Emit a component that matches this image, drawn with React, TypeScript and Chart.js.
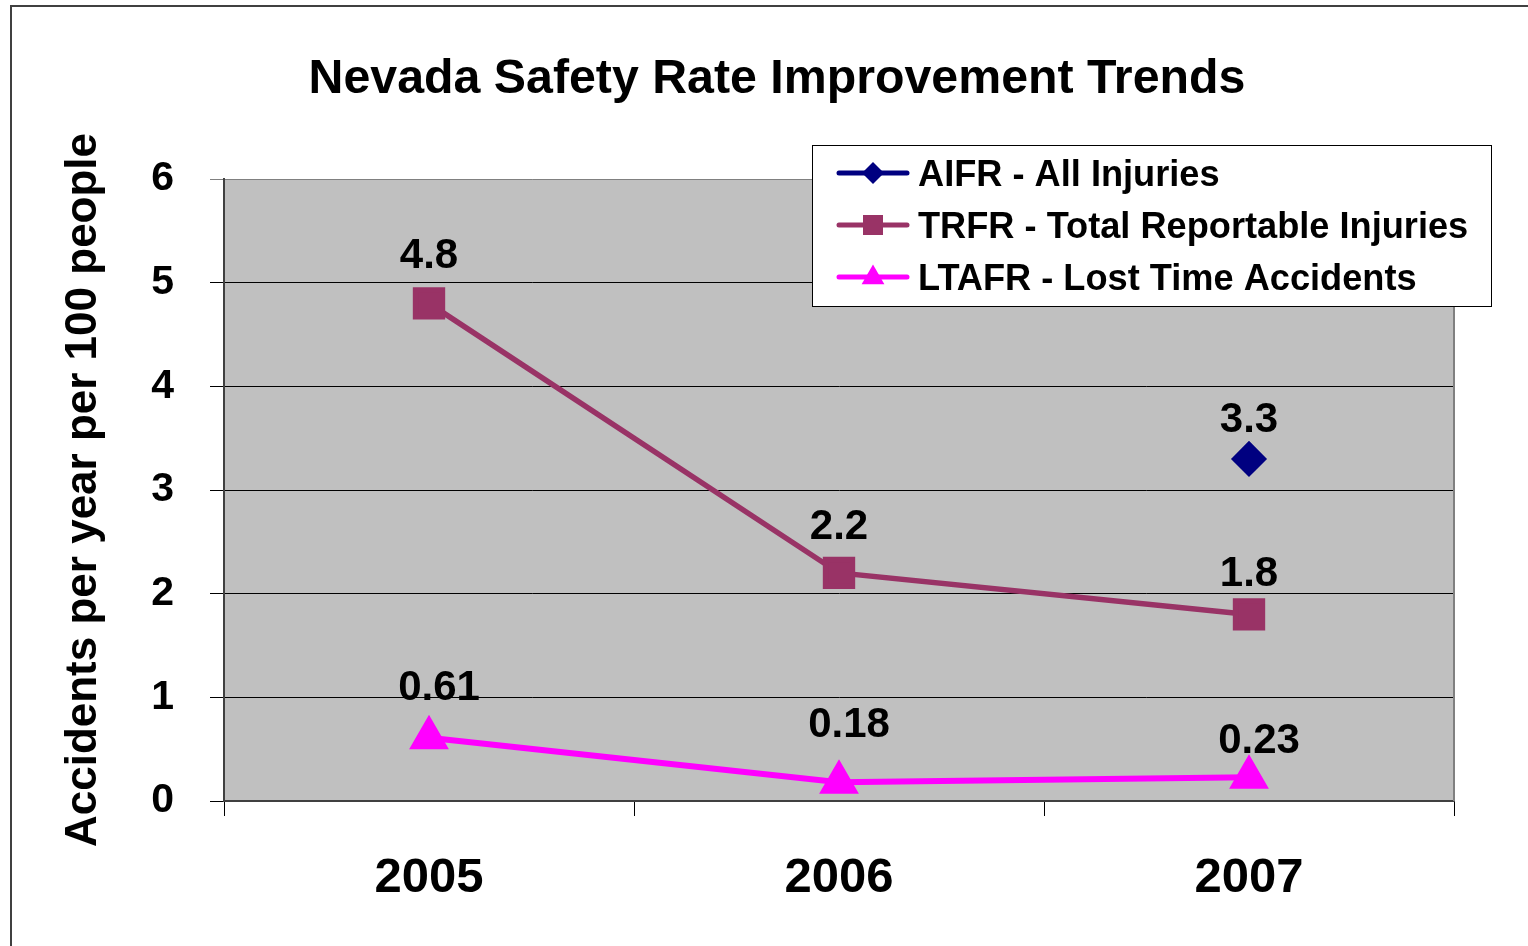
import React, { useEffect, useRef } from 'react';
import { Chart, registerables } from 'chart.js';

Chart.register(...registerables);

const categories = ['2005', '2006', '2007'];
const aifrValues = [null, null, 3.3];
const trfrValues = [4.8, 2.2, 1.8];
const ltafrValues = [0.61, 0.18, 0.23];
const seriesNames = [
  'AIFR - All Injuries',
  'TRFR - Total Reportable Injuries',
  'LTAFR - Lost Time Accidents',
];
const yTickValues = [0, 1, 2, 3, 4, 5, 6];
const chartTitle = 'Nevada Safety Rate Improvement Trends';
const yAxisTitle = 'Accidents per year per 100 people';

const FONT = "'Liberation Sans', Arial, sans-serif";

const backgroundPlugin = {
  id: 'bgFrame',
  beforeDraw(chart: any) {
    const { ctx, chartArea, width, height } = chart;
    ctx.save();
    ctx.fillStyle = '#ffffff';
    ctx.fillRect(0, 0, width, height);
    ctx.strokeStyle = '#404040';
    ctx.lineWidth = 2;
    ctx.strokeRect(11, 6, width + 50, height + 50);
    ctx.fillStyle = '#C0C0C0';
    ctx.fillRect(chartArea.left, chartArea.top, chartArea.right - chartArea.left, chartArea.bottom - chartArea.top);
    ctx.fillStyle = '#000000';
    ctx.font = `bold 48.3px ${FONT}`;
    ctx.textAlign = 'center';
    ctx.textBaseline = 'middle';
    ctx.fillText(chartTitle, 777, 80);
    ctx.restore();
  },
  beforeDatasetsDraw(chart: any) {
    const { ctx, chartArea } = chart;
    ctx.save();
    ctx.strokeStyle = '#808080';
    ctx.lineWidth = 2;
    ctx.beginPath();
    ctx.moveTo(chartArea.right, chartArea.top);
    ctx.lineTo(chartArea.right, chartArea.bottom);
    ctx.stroke();
    ctx.restore();
  },
};

const dataLabelPlugin = {
  id: 'dataLabels',
  afterDatasetsDraw(chart: any) {
    const { ctx } = chart;
    ctx.save();
    ctx.font = `bold 42px ${FONT}`;
    ctx.fillStyle = '#000000';
    ctx.textAlign = 'center';
    ctx.textBaseline = 'middle';
    chart.data.datasets.forEach((ds: any, i: number) => {
      const meta = chart.getDatasetMeta(i);
      meta.data.forEach((pt: any, j: number) => {
        const v = ds.data[j];
        if (v === null || v === undefined) return;
        const dy = Array.isArray(ds.labelDy) ? ds.labelDy[j] : ds.labelDy || 46;
        ctx.fillText(String(v), pt.x + (ds.labelDx || 0), pt.y - dy);
      });
    });
    ctx.restore();
  },
};

function drawMarker(ctx: any, style: string, x: number, y: number, r: number) {
  ctx.beginPath();
  if (style === 'rectRot') {
    ctx.moveTo(x - r, y);
    ctx.lineTo(x, y - r);
    ctx.lineTo(x + r, y);
    ctx.lineTo(x, y + r);
  } else if (style === 'rect') {
    ctx.rect(x - r, y - r, 2 * r, 2 * r);
  } else {
    ctx.moveTo(x, y - r * 1.05);
    ctx.lineTo(x + r * 0.95, y + r * 0.6);
    ctx.lineTo(x - r * 0.95, y + r * 0.6);
  }
  ctx.closePath();
  ctx.fill();
}

const legendPlugin = {
  id: 'boxLegend',
  afterDraw(chart: any) {
    const { ctx } = chart;
    const box = { left: 812, top: 145, right: 1491, bottom: 306 };
    ctx.save();
    ctx.fillStyle = '#ffffff';
    ctx.fillRect(box.left, box.top, box.right - box.left, box.bottom - box.top);
    ctx.strokeStyle = '#000000';
    ctx.lineWidth = 1;
    ctx.strokeRect(box.left + 0.5, box.top + 0.5, box.right - box.left, box.bottom - box.top);
    const rowH = 52;
    const firstY = 173;
    chart.data.datasets.forEach((ds: any, i: number) => {
      const y = firstY + i * rowH;
      ctx.strokeStyle = ds.borderColor;
      ctx.lineWidth = 5;
      ctx.lineCap = 'round';
      ctx.beginPath();
      ctx.moveTo(839, y);
      ctx.lineTo(907, y);
      ctx.stroke();
      ctx.fillStyle = ds.pointBackgroundColor;
      const r = ds.pointStyle === 'rectRot' ? 11 : ds.pointStyle === 'rect' ? 10 : 12;
      drawMarker(ctx, ds.pointStyle, 873, y, r);
      ctx.fillStyle = '#000000';
      ctx.font = `bold 36.2px ${FONT}`;
      ctx.textAlign = 'left';
      ctx.textBaseline = 'middle';
      ctx.fillText(ds.label, 918, y + 3);
    });
    ctx.restore();
  },
};

export default function App() {
  const canvasRef = useRef<HTMLCanvasElement | null>(null);

  useEffect(() => {
    if (!canvasRef.current) return;
    const chart = new Chart(canvasRef.current, {
      type: 'line',
      data: {
        labels: categories,
        datasets: [
          {
            label: seriesNames[0],
            data: aifrValues,
            borderColor: '#000080',
            backgroundColor: '#000080',
            pointBackgroundColor: '#000080',
            pointBorderColor: '#000080',
            pointStyle: 'rectRot',
            pointRadius: 14.5,
            borderWidth: 5,
            labelDx: 0,
            labelDy: [42, 42, 38],
          } as any,
          {
            label: seriesNames[1],
            data: trfrValues,
            borderColor: '#993366',
            backgroundColor: '#993366',
            pointBackgroundColor: '#993366',
            pointBorderColor: '#993366',
            pointStyle: 'rect',
            pointRadius: 19,
            borderWidth: 5.5,
            labelDx: 0,
            labelDy: [47, 46, 40],
          } as any,
          {
            label: seriesNames[2],
            data: ltafrValues,
            borderColor: '#FF00FF',
            backgroundColor: '#FF00FF',
            pointBackgroundColor: '#FF00FF',
            pointBorderColor: '#FF00FF',
            pointStyle: 'triangle',
            pointRadius: 17,
            borderWidth: 6,
            labelDx: 10,
            labelDy: [49, 57, 36],
          } as any,
        ],
      },
      options: {
        responsive: false,
        animation: false,
        devicePixelRatio: 1,
        layout: { padding: { top: 179, right: 74, bottom: 0, left: 0 } },
        plugins: {
          legend: { display: false },
          tooltip: { enabled: false },
          title: { display: false },
        },
        scales: {
          x: {
            type: 'category',
            offset: true,
            grid: {
              offset: true,
              drawOnChartArea: false,
              drawTicks: true,
              tickLength: 15,
              color: '#000000',
              lineWidth: 1,
            },
            border: { display: true, color: '#404040', width: 2 },
            ticks: {
              color: '#000000',
              font: { family: FONT, size: 49, weight: 'bold' },
              padding: 33,
              maxRotation: 0,
            },
            afterFit(scale: any) {
              scale.height = 145;
            },
          },
          y: {
            min: yTickValues[0],
            max: yTickValues[yTickValues.length - 1],
            ticks: {
              stepSize: 1,
              color: '#000000',
              font: { family: FONT, size: 41, weight: 'bold' },
              padding: 36,
            },
            grid: {
              drawTicks: true,
              tickLength: 14,
              color: (c: any) => (c.tick && c.tick.value === 6 ? '#808080' : '#000000'),
              lineWidth: 1,
            },
            border: { display: true, color: '#404040', width: 2 },
            title: {
              display: true,
              text: yAxisTitle,
              color: '#000000',
              font: { family: FONT, size: 44, weight: 'bold' },
              padding: { top: 57, bottom: 0 },
            },
            afterFit(scale: any) {
              scale.width = 224;
            },
          },
        },
      } as any,
      plugins: [backgroundPlugin, dataLabelPlugin, legendPlugin],
    });
    return () => chart.destroy();
  }, []);

  return (
    <div style={{ position: 'absolute', left: 0, top: 0, width: 1528, height: 946 }}>
      <canvas ref={canvasRef} width={1528} height={946} />
    </div>
  );
}
